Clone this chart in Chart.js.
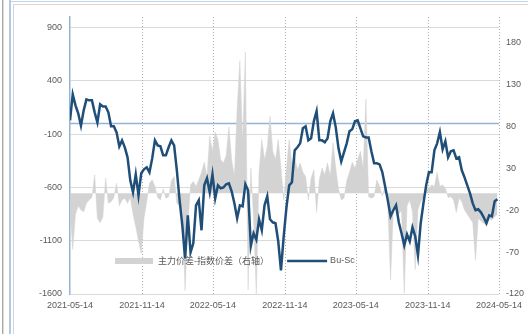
<!DOCTYPE html>
<html><head><meta charset="utf-8">
<script src="https://cdn.jsdelivr.net/npm/chart.js@4"></script>
<style>
html,body{margin:0;padding:0;background:#fff;}
#wrap{position:relative;width:528px;height:334px;overflow:hidden;background:#fff;}
#c{position:absolute;left:0;top:0;}
.f{position:absolute;}
</style></head><body>
<div id="wrap">
<div class="f" style="left:2px;top:0;width:1px;height:334px;background:#a9a9a9"></div>
<div class="f" style="left:3px;top:0;width:1px;height:334px;background:#dadada"></div>
<div class="f" style="left:9px;top:0;width:2px;height:334px;background:#b8c9dc"></div>
<div class="f" style="left:13px;top:4px;width:1px;height:330px;background:#c9d6e6"></div>
<div class="f" style="left:10px;top:1px;width:518px;height:1px;background:#bcd3ea"></div>
<div class="f" style="left:13px;top:4px;width:515px;height:1px;background:#e3d3d3"></div>
<canvas id="c" width="528" height="334"></canvas>
</div>
<script>
// ---- data ----
const startDate = '2021-05-14';
const stepDays = 7; // weekly samples
const xTickLabels = ['2021-05-14','2021-11-14','2022-05-14','2022-11-14','2023-05-14','2023-11-14','2024-05-14'];
const leftTicks = [900, 400, -100, -600, -1100, -1600];
const rightTicks = [180, 130, 80, 30, -20, -70, -120];
const seriesNames = ['主力价差-指数价差（右轴）', 'Bu-Sc'];

const buSc = [
  30, 274, 171, 96, -20, 124, 227, 218, 218, 105,
  11, 180, 161, 161, 105, -26, -26, -83, -214, -158,
  -223, -317, -533, -646, -477, -674, -467, -430, -411, -458,
  -327, -158, -205, -214, -298, -298, -223, -158, -205, -439,
  -721, -955, -1265, -862, -1209, -1124, -768, -720, -1002, -580,
  -514, -646, -477, -702, -580, -608, -600, -570, -561, -636,
  -749, -890, -768, -777, -570, -627, -1150, -1030, -1090, -899,
  -1002, -768, -683, -899, -927, -936, -1105, -1378, -1058, -786,
  -580, -551, -251, -223, -186, -45, -26, -158, -139, 21,
  115, -158, -158, -176, -139, 21, 96, -36, -233, -355,
  -270, -186, -73, -54, 21, 30, -45, -120, -130, -130,
  -261, -373, -373, -383, -458, -589, -721, -871, -814, -768,
  -927, -1030, -1143, -1040, -1105, -974, -1058, -1237, -936, -749,
  -580, -458, -458, -251, -186, -80, -242, -167, -317, -261,
  -251, -327, -317, -439, -505, -580, -655, -749, -814, -805,
  -833, -880, -936, -861, -871, -730, -711
];

const spread = [
  -20, -67, -25, -15, -20, -22, -12, -8, -5, 22,
  -30, -35, -28, 18, -12, -10, -5, 12, -15, -8,
  -6, -12, -5, -25, -40, -57, -72, -30, -10, 12,
  16, 8, -5, -8, 5, -6, -4, 15, 20, -12,
  -15, -20, -116, -40, 10, 14, 8, 16, 25, 37,
  20, 68, 50, 73, 64, 40, 36, 45, 79, 40,
  20, 100, 158, 60, 168, -115, 30, -30, -120, 25,
  64, 40, 55, 92, 50, 40, 64, 30, -8, 30,
  64, 35, 44, 28, 36, 25, 20, -8, 18, 28,
  -23, 16, 30, 22, 36, 20, 60, 30, 5, -8,
  -6, 15, 25, 37, 30, 40, 50, 30, 112, -4,
  -6, -4, 16, 8, -3, 8, -15, -103, -20, -18,
  -25, -20, -119, -15, -8, -22, -91, -20, -10, -5,
  5, 6, 10, 8, 25, 8, 10, 6, -5, -4,
  -8, -23, -6, -10, -20, -25, -30, -35, -80, -30,
  -33, -36, -38, -30, -32, -28, -25
];

// ---- helpers ----
function dayOf(s) {
  const p = s.split('-').map(Number), q = startDate.split('-').map(Number);
  return (Date.UTC(p[0], p[1]-1, p[2]) - Date.UTC(q[0], q[1]-1, q[2])) / 86400000;
}
const tickDays = xTickLabels.map(dayOf);
const toPts = arr => arr.map((v, i) => ({x: i * stepDays, y: v}));

const TXT = '#595959';
const LINE = '#1f4e79';
const AREA = '#d3d3d3';
const AXISBLUE = '#95b3d7';
const tickFont = {family: 'Liberation Sans', size: 9};

// dotted vertical grid lines at the date ticks
const dottedX = {
  id: 'dottedX',
  beforeDatasetsDraw(chart) {
    const ctx = chart.ctx, a = chart.chartArea, sx = chart.scales.x;
    ctx.save();
    ctx.strokeStyle = '#b0b0b0'; ctx.lineWidth = 1;
    ctx.setLineDash([1, 2]);
    tickDays.forEach((d, k) => {
      if (k === 0) return;
      const x = Math.round(sx.getPixelForValue(d)) + 0.5;
      ctx.beginPath(); ctx.moveTo(x, a.top); ctx.lineTo(x, a.bottom); ctx.stroke();
    });
    ctx.restore();
  }
};

const zeroLine = {
  id: 'zeroLine',
  beforeDatasetsDraw(chart) {
    const ctx = chart.ctx, a = chart.chartArea, y = chart.scales.y.getPixelForValue(0);
    ctx.save();
    ctx.strokeStyle = AXISBLUE; ctx.lineWidth = 1.5;
    ctx.beginPath(); ctx.moveTo(a.left, y); ctx.lineTo(a.right, y); ctx.stroke();
    ctx.restore();
  }
};

const innerLegend = {
  id: 'innerLegend',
  afterDatasetsDraw(chart) {
    const ctx = chart.ctx, a = chart.chartArea;
    const ds = chart.data.datasets;
    const cy = a.bottom - 33;
    let x = a.left + 45;
    ctx.save();
    ctx.fillStyle = ds[0].backgroundColor;
    ctx.fillRect(x, cy - 3, 38, 6);
    x += 43;
    ctx.font = '9px "Noto Sans CJK SC"';
    ctx.fillStyle = TXT; ctx.textBaseline = 'middle'; ctx.textAlign = 'left';
    ctx.fillText(ds[0].label, x, cy);
    x += ctx.measureText(ds[0].label).width + 18;
    ctx.strokeStyle = ds[1].borderColor; ctx.lineWidth = 2.5;
    ctx.beginPath(); ctx.moveTo(x, cy); ctx.lineTo(x + 40, cy); ctx.stroke();
    x += 43;
    ctx.font = '9px "Liberation Sans"';
    ctx.fillText(ds[1].label, x, cy);
    ctx.restore();
  }
};

new Chart(document.getElementById('c'), {
  type: 'line',
  data: {
    datasets: [
      {
        label: seriesNames[0], data: toPts(spread), yAxisID: 'y1',
        fill: 'origin', backgroundColor: AREA, borderColor: AREA, borderWidth: 0.5,
        pointRadius: 0, tension: 0, order: 2
      },
      {
        label: seriesNames[1], data: toPts(buSc), yAxisID: 'y',
        fill: false, borderColor: LINE, borderWidth: 2.5,
        pointRadius: 0, tension: 0, order: 1
      }
    ]
  },
  options: {
    responsive: false, animation: false,
    layout: {padding: {top: 17, left: 0, right: 0, bottom: 0}},
    plugins: {legend: {display: false}, tooltip: {enabled: false}},
    scales: {
      x: {
        type: 'linear', min: 0, max: tickDays[tickDays.length - 1],
        afterBuildTicks: ax => { ax.ticks = tickDays.map(v => ({value: v})); },
        afterFit: s => { s.height = 40; },
        ticks: {
          autoSkip: false, maxRotation: 0, padding: 6, color: TXT, font: tickFont,
          callback: v => { const k = tickDays.indexOf(v); return k >= 0 ? xTickLabels[k] : ''; }
        },
        grid: {display: false, drawTicks: false},
        border: {display: false}
      },
      y: {
        position: 'left', min: -1600, max: 1000,
        afterBuildTicks: ax => { ax.ticks = leftTicks.map(v => ({value: v})); },
        afterFit: s => { s.width = 70; },
        ticks: {padding: 8, color: TXT, font: tickFont, callback: v => String(v)},
        grid: {color: '#d9d9d9', lineWidth: 1, drawTicks: false},
        border: {display: true, color: AXISBLUE, width: 1.5}
      },
      y1: {
        position: 'right', min: -120, max: 210,
        afterBuildTicks: ax => { ax.ticks = rightTicks.map(v => ({value: v})); },
        afterFit: s => { s.width = 28; },
        ticks: {padding: 7, color: TXT, font: tickFont, callback: v => String(v)},
        grid: {display: false, drawTicks: false},
        border: {display: false}
      }
    }
  },
  plugins: [dottedX, zeroLine, innerLegend]
});
</script>
</body></html>
